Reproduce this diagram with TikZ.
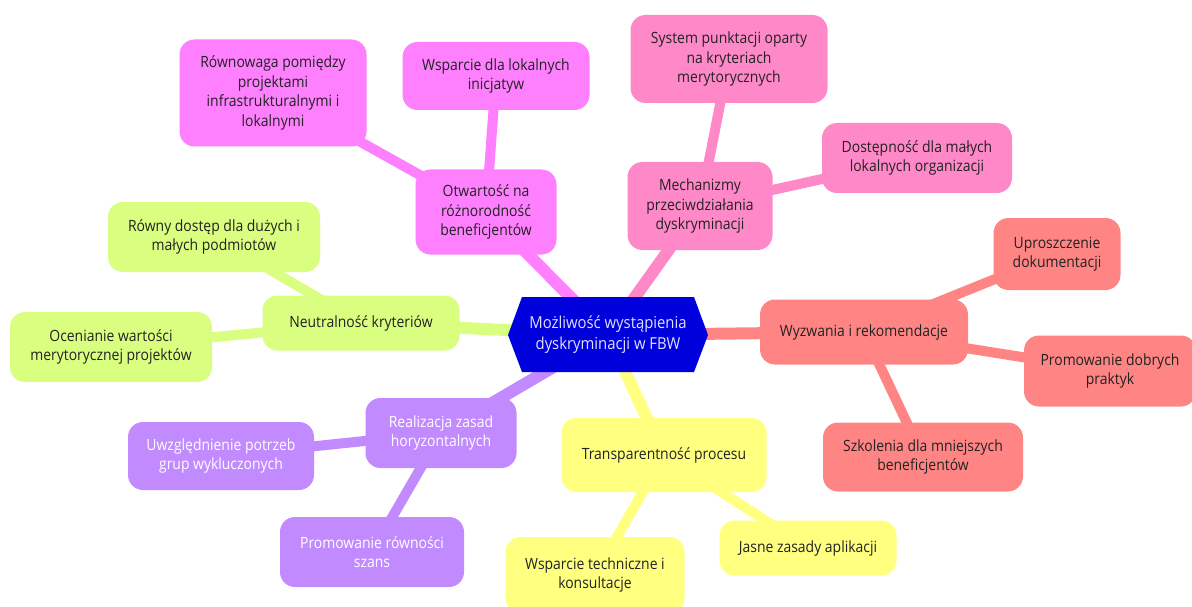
\documentclass[tikz,border=0pt]{standalone}
\usepackage{fontspec}
\setmainfont[FakeStretch=0.9]{Open Sans}
\usetikzlibrary{backgrounds}
\definecolor{blueC}{HTML}{0000DD}
\definecolor{magC}{HTML}{FF80FF}
\definecolor{pinkC}{HTML}{FF88C8}
\definecolor{salC}{HTML}{FF8585}
\definecolor{yelC}{HTML}{FFFF80}
\definecolor{purC}{HTML}{C28AFF}
\definecolor{limC}{HTML}{DAFF80}
\definecolor{txtC}{HTML}{222222}
\tikzset{
  box/.style={rounded corners=15pt, align=center, inner sep=0pt, text=txtC,
    font=\fontsize{15.5}{19.5}\selectfont},
  mainedge/.style={line width=12pt},
  subedge/.style={line width=10pt},
}
\begin{document}
\begin{tikzpicture}[x=1pt,y=-1pt]
\useasboundingbox (0,0) rectangle (1192,607);
% centre hexagon
\fill[blueC] (508,335) -- (522,297) -- (694,297) -- (708,335) -- (694,372) -- (522,372) -- cycle;
\node[box, text=white!88!blue, font=\fontsize{16.5}{21}\selectfont, minimum width=180pt, minimum height=75pt] (c) at (608,335) {Możliwość wystąpienia\\dyskryminacji w FBW};
% magenta branch
\node[box, fill=magC, minimum width=141pt, minimum height=85pt] (ot) at (486,212) {Otwartość na\\różnorodność\\beneficjentów};
\node[box, fill=magC, minimum width=187pt, minimum height=107pt] (ot1) at (273,93) {Równowaga pomiędzy\\projektami\\infrastrukturalnymi i\\lokalnymi};
\node[box, fill=magC, minimum width=187pt, minimum height=68pt] (ot2) at (496,76) {Wsparcie dla lokalnych\\inicjatyw};
% pink branch
\node[box, fill=pinkC, minimum width=145pt, minimum height=88pt] (me) at (700,206) {Mechanizmy\\przeciwdziałania\\dyskryminacji};
\node[box, fill=pinkC, minimum width=197pt, minimum height=88pt] (me1) at (729,59) {System punktacji oparty\\na kryteriach\\merytorycznych};
\node[box, fill=pinkC, minimum width=190pt, minimum height=70pt] (me2) at (917,158) {Dostępność dla małych\\lokalnych organizacji};
% salmon branch
\node[box, fill=salC, minimum width=208pt, minimum height=65pt] (wy) at (864,332) {Wyzwania i rekomendacje};
\node[box, fill=salC, minimum width=127pt, minimum height=72pt] (wy1) at (1057,254) {Uproszczenie\\dokumentacji};
\node[box, fill=salC, minimum width=172pt, minimum height=71pt] (wy2) at (1110,371) {Promowanie dobrych\\praktyk};
\node[box, fill=salC, minimum width=200pt, minimum height=69pt] (wy3) at (923,457) {Szkolenia dla mniejszych\\beneficjentów};
% yellow branch
\node[box, fill=yelC, minimum width=205pt, minimum height=74pt] (tr) at (664,455) {Transparentność procesu};
\node[box, fill=yelC, minimum width=177pt, minimum height=55pt] (tr1) at (808,548) {Jasne zasady aplikacji};
\node[box, fill=yelC, minimum width=179pt, minimum height=76pt] (tr2) at (595,575) {Wsparcie techniczne i\\konsultacje};
% purple branch
\node[box, fill=purC, text=white, minimum width=151pt, minimum height=70pt] (re) at (441,433) {Realizacja zasad\\horyzontalnych};
\node[box, fill=purC, text=white, minimum width=186pt, minimum height=68pt] (re1) at (221,456) {Uwzględnienie potrzeb\\grup wykluczonych};
\node[box, fill=purC, text=white, minimum width=184pt, minimum height=70pt] (re2) at (372,552) {Promowanie równości\\szans};
% lime branch
\node[box, fill=limC, minimum width=197pt, minimum height=55pt] (ne) at (361,323) {Neutralność kryteriów};
\node[box, fill=limC, minimum width=212pt, minimum height=70pt] (ne1) at (214,237) {Równy dostęp dla dużych i\\małych podmiotów};
\node[box, fill=limC, minimum width=202pt, minimum height=70pt] (ne2) at (111,347) {Ocenianie wartości\\merytorycznej projektów};
\begin{pgfonlayer}{background}
\draw[mainedge, magC] (c.center) -- (ot.center);
\draw[subedge, magC] (ot.center) -- (ot1.center);
\draw[subedge, magC] (ot.center) -- (ot2.center);
\draw[mainedge, pinkC] (c.center) -- (me.center);
\draw[subedge, pinkC] (me.center) -- (me1.center);
\draw[subedge, pinkC] (me.center) -- (me2.center);
\draw[mainedge, salC] (c.center) -- (wy.center);
\draw[subedge, salC] (wy.center) -- (wy1.center);
\draw[subedge, salC] (wy.center) -- (wy2.center);
\draw[subedge, salC] (wy.center) -- (wy3.center);
\draw[mainedge, yelC] (c.center) -- (tr.center);
\draw[subedge, yelC] (tr.center) -- (tr1.center);
\draw[subedge, yelC] (tr.center) -- (tr2.center);
\draw[mainedge, purC] (c.center) -- (re.center);
\draw[subedge, purC] (re.center) -- (re1.center);
\draw[subedge, purC] (re.center) -- (re2.center);
\draw[mainedge, limC] (c.center) -- (ne.center);
\draw[subedge, limC] (ne.center) -- (ne1.center);
\draw[subedge, limC] (ne.center) -- (ne2.center);
\end{pgfonlayer}
\end{tikzpicture}
\end{document}
